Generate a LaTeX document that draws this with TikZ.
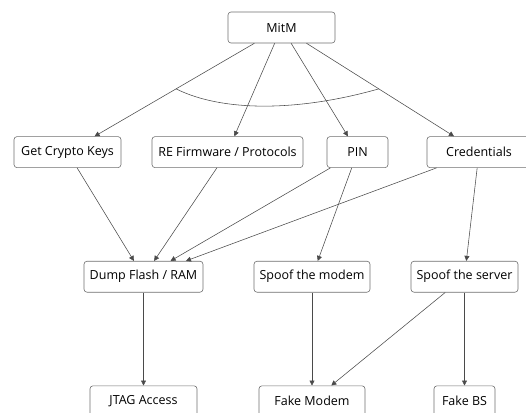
\documentclass[tikz,border=0pt]{standalone}
\usepackage{fontspec}
\setmainfont{Open Sans}
\usepackage{tikz}
\usetikzlibrary{arrows.meta, positioning}

\definecolor{boxline}{HTML}{6E6E6E}
\definecolor{edgeline}{HTML}{4A4A4A}

\begin{document}
\begin{tikzpicture}[
    x=1pt, y=-1pt,
    node distance=93pt,
    box/.style={rectangle, rounded corners=3pt, draw=boxline, line width=0.6pt, align=center,
                minimum width=107pt, minimum height=31pt, inner sep=2pt,
                font=\fontsize{12.5pt}{15pt}\selectfont},
    arrow/.style={draw=edgeline, line width=0.55pt, -{Triangle[length=5pt, width=5pt]}}
]
    \useasboundingbox (0,0) rectangle (526,412);

    \node[box] (mitm) at (281.5,27.5) {MitM};

    \node[box, below=of mitm, xshift=-214pt] (keys) {Get Crypto Keys};
    \node[box, below=of mitm, xshift=-54pt, minimum width=151pt] (fw) {RE Firmware / Protocols};
    \node[box, below=of mitm, xshift=76pt, minimum width=61pt] (pin) {PIN};
    \node[box, below=of mitm, xshift=197.5pt, minimum width=104pt] (cred) {Credentials};

    \node[box, below=of keys, xshift=76pt, minimum width=119pt] (dump) {Dump Flash / RAM};
    \node[box, below=of pin, xshift=-45.5pt, minimum width=116pt] (smodem) {Spoof the modem};
    \node[box, below=of cred, xshift=-14.5pt] (sserver) {Spoof the server};

    \node[box, below=of dump] (jtag) {JTAG Access};
    \node[box, below=of smodem, minimum width=106pt] (fmodem) {Fake Modem};
    \node[box, below=of sserver, minimum width=61pt] (fbs) {Fake BS};

    \draw[arrow] (mitm) -- (keys) coordinate[pos=0.49] (andl);
    \draw[arrow] (mitm) -- (fw);
    \draw[arrow] (mitm) -- (pin);
    \draw[arrow] (mitm) -- (cred) coordinate[pos=0.49] (andr);
    % AND arc over the four children
    \draw[draw=edgeline, line width=0.55pt] (andl) .. controls +(46,23) and +(-81,23) .. (andr);

    \draw[arrow] (keys) -- (dump);
    \draw[arrow] (fw) -- (dump);
    \draw[arrow] (pin) -- (dump);
    \draw[arrow] (cred) -- (dump);
    \draw[arrow] (pin) -- (smodem);
    \draw[arrow] (cred) -- (sserver);

    \draw[arrow] (dump) -- (jtag);
    \draw[arrow] (smodem) -- (fmodem);
    \draw[arrow] (sserver) -- (fmodem);
    \draw[arrow] (sserver) -- (fbs);
\end{tikzpicture}
\end{document}
